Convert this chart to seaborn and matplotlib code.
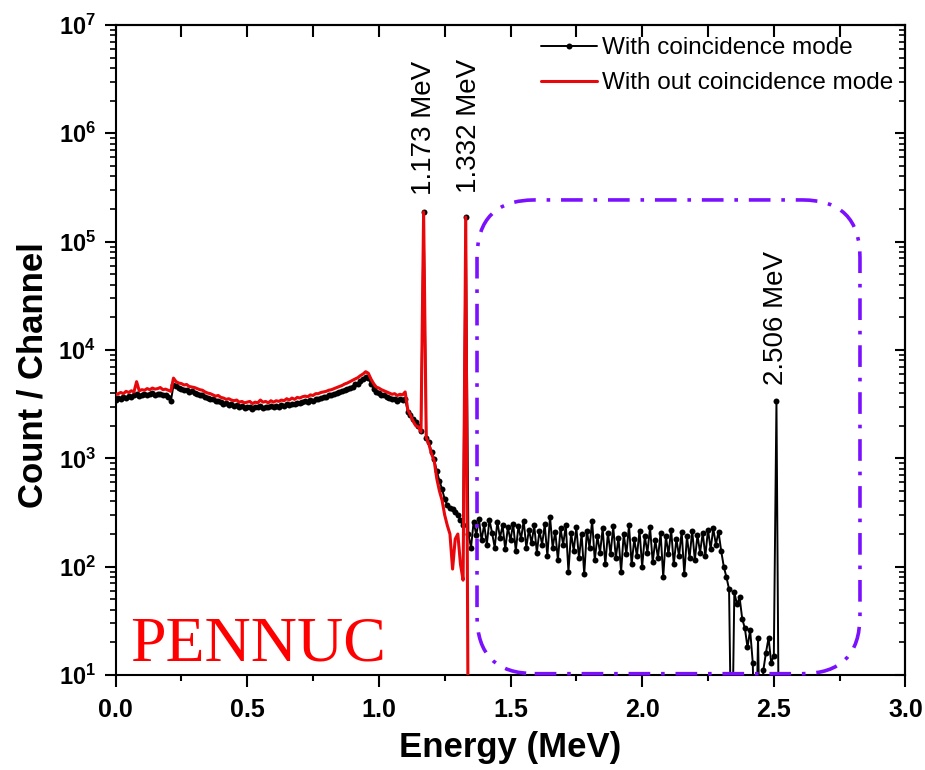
import numpy as np
import matplotlib
matplotlib.use("Agg")
import matplotlib.pyplot as plt
from matplotlib.patches import FancyBboxPatch
from matplotlib.ticker import LogLocator, NullFormatter
import seaborn as sns

# energy calibration of the plotted channels (MeV per channel)
CHANNEL_WIDTH = 0.01

# counts per channel, starting at 0.00 MeV, 10 channels per row
coinc_counts = [
    3450, 3600, 3500, 3700, 3600, 3750, 3650, 3800, 3900, 3750,
    3850, 3950, 3800, 3900, 4000, 3850, 3950, 3900, 3800, 3850,
    3700, 3350, 4700, 4650, 4450, 4400, 4250, 4300, 4100, 4150,
    4000, 3950, 3800, 3850, 3650, 3600, 3500, 3550, 3350, 3400,
    3300, 3200, 3250, 3100, 3150, 3050, 3100, 2950, 3050, 2900,
    3000, 2950, 2850, 3000, 2950, 3050, 2900, 3000, 2950, 3050,
    2950, 3050, 3000, 3100, 3050, 3150, 3100, 3200, 3150, 3250,
    3250, 3300, 3350, 3300, 3450, 3400, 3500, 3550, 3600, 3650,
    3700, 3800, 3850, 3900, 4000, 4100, 4150, 4300, 4400, 4500,
    4600, 4800, 4900, 5200, 5400, 5650, 5500, 4900, 4400, 4100,
    4000, 3850, 3800, 3700, 3600, 3500, 3550, 3400, 3500, 3450,
    3500, 2700, 2500, 2300, 2150, 2000, 1800, 188000, 1550, 1400,
    1150, 980, 760, 620, 520, 420, 370, 350, 340, 320,
    300, 270, 240, 169000, 200, 150, 260, 195, 275, 175,
    245, 160, 270, 205, 150, 260, 185, 240, 145, 230,
    175, 250, 140, 235, 180, 265, 150, 220, 165, 240,
    135, 215, 160, 245, 125, 290, 150, 210, 115, 225,
    160, 240, 90, 205, 140, 230, 120, 200, 85, 215,
    150, 265, 115, 190, 135, 225, 105, 205, 130, 235,
    120, 185, 90, 200, 130, 240, 105, 180, 125, 215,
    100, 190, 135, 230, 110, 175, 120, 205, 80, 190,
    130, 220, 105, 180, 125, 210, 85, 190, 120, 215,
    115, 195, 135, 205, 125, 220, 145, 225, 160, 210,
    140, 100, 80, 62, 1, 58, 45, 52, 33, 27,
    18, 26, 13, 1, 22, 1, 11, 16, 22, 13,
    15, 3400, 1,
]

no_coinc_counts = [
    3850, 3950, 4050, 3950, 4150, 4050, 4200, 4100, 5100, 4200,
    4300, 4250, 4400, 4300, 4450, 4350, 4400, 4500, 4300, 4350,
    4250, 4150, 5500, 5100, 4950, 4900, 4750, 4800, 4600, 4550,
    4500, 4400, 4300, 4250, 4100, 4000, 3950, 3850, 3750, 3800,
    3650, 3600, 3500, 3550, 3450, 3400, 3450, 3300, 3350, 3250,
    3300, 3350, 3200, 3300, 3250, 3450, 3300, 3350, 3250, 3400,
    3300, 3400, 3350, 3450, 3400, 3550, 3450, 3600, 3500, 3650,
    3600, 3700, 3750, 3700, 3850, 3800, 3950, 3950, 4050, 4100,
    4150, 4250, 4300, 4400, 4500, 4600, 4700, 4850, 4950, 5100,
    5250, 5400, 5550, 5800, 6000, 6300, 6100, 5400, 4900, 4550,
    4450, 4300, 4200, 4100, 4000, 3900, 3950, 3800, 3900, 3850,
    4100, 2800, 2500, 2200, 2000, 1950, 1750, 188000, 1550, 1350,
    1100, 950, 650, 500, 410, 300, 240, 200, 95, 180,
    200, 105, 75, 169000, 1,
]

peak_labels = ["1.173 MeV", "1.332 MeV", "2.506 MeV"]
peak_channels = [117, 133, 251]
x_ticks = [0.0, 0.5, 1.0, 1.5, 2.0, 2.5, 3.0]
x_tick_labels = ["0.0", "0.5", "1.0", "1.5", "2.0", "2.5", "3.0"]
y_exponents = [1, 2, 3, 4, 5, 6, 7]

coinc_energy = np.round(np.arange(len(coinc_counts)) * CHANNEL_WIDTH, 2)
no_coinc_energy = np.round(np.arange(len(no_coinc_counts)) * CHANNEL_WIDTH, 2)

sns.set_style("ticks")
plt.rcParams["font.family"] = ["Liberation Sans", "DejaVu Sans"]
plt.rcParams["mathtext.fontset"] = "custom"
plt.rcParams["mathtext.rm"] = "Liberation Sans:bold"
plt.rcParams["mathtext.bf"] = "Liberation Sans:bold"
for key in ["text.color", "axes.labelcolor", "xtick.color", "ytick.color", "axes.edgecolor"]:
    plt.rcParams[key] = "black"

fig = plt.figure(figsize=(9.25, 7.7), dpi=100)
ax = fig.add_axes([0.1249, 0.1234, 0.854, 0.8442])

sns.lineplot(x=coinc_energy, y=coinc_counts, ax=ax, color="black", lw=1.4,
             marker="o", markersize=4.3, markeredgewidth=0, sort=False,
             estimator=None, label="With coincidence mode", zorder=2)
sns.lineplot(x=no_coinc_energy, y=no_coinc_counts, ax=ax, color="#e8080c", lw=2.2,
             sort=False, estimator=None, label="With out coincidence mode", zorder=3)

ax.set_yscale("log")
ax.set_xlim(0, 3.0)
ax.set_ylim(10, 1e7)

# peak annotations
offsets = [(0, 12), (2, 17), (0, 11)]
for lab, ch, off in zip(peak_labels, peak_channels, offsets):
    ax.annotate(lab, xy=(coinc_energy[ch], coinc_counts[ch]), xytext=off,
                textcoords="offset points", rotation=90, ha="center", va="bottom",
                fontsize=20)

# region of interest box
box = FancyBboxPatch((0.4576, 0.002), 0.4848, 0.7288,
                     boxstyle="round,pad=0,rounding_size=0.073",
                     mutation_aspect=790 / 650, transform=ax.transAxes,
                     fill=False, edgecolor="#7b10ff", lw=2.6,
                     linestyle=(0, (6, 3, 1, 3)), clip_on=False, zorder=4)
ax.add_patch(box)

ax.text(0.018, 0.022, "PENNUC", transform=ax.transAxes, fontsize=46,
        color="#ff0000", family="Liberation Serif", va="baseline", zorder=5)

# ticks
ax.set_xticks(x_ticks, x_tick_labels, fontweight="bold")
ax.set_xticks(np.arange(0.25, 3.0, 0.5), minor=True)
ax.set_yticks([10.0 ** k for k in y_exponents],
              [r"$\mathbf{10^{%d}}$" % k for k in y_exponents])
ax.yaxis.set_minor_locator(LogLocator(base=10, subs=np.arange(2, 10)))
ax.yaxis.set_minor_formatter(NullFormatter())
ax.tick_params(axis="x", which="major", direction="out", length=8.5, width=1.5,
               pad=8, labelsize=18)
ax.tick_params(axis="x", which="minor", direction="out", length=4.5, width=1.5)
ax.tick_params(axis="y", which="major", direction="out", length=8, width=1.5,
               pad=6, labelsize=17)
ax.tick_params(axis="y", which="minor", direction="out", length=4.5, width=1.2)

secx = ax.secondary_xaxis("top")
secx.set_xticks(np.arange(0, 3.01, 0.25))
secx.tick_params(direction="in", length=8.5, width=1.5, labeltop=False)
secy = ax.secondary_yaxis("right")
secy.tick_params(which="major", direction="in", length=7, width=1.5, labelright=False)
secy.tick_params(which="minor", direction="in", length=4, width=1.2)

for sp in list(ax.spines.values()) + [secx.spines["top"], secy.spines["right"]]:
    sp.set_linewidth(1.5)

ax.set_xlabel("Energy (MeV)", fontsize=25, fontweight="bold")
ax.set_ylabel("Count / Channel", fontsize=25, fontweight="bold")
ax.xaxis.set_label_coords(0.5, -0.086)
ax.yaxis.set_label_coords(-0.084, 0.4615)

ax.legend(loc="upper right", frameon=False, fontsize=17.5, handlelength=2.3,
          handletextpad=0.2, labelspacing=0.55, borderaxespad=0.1)

plt.savefig("out.png", dpi=100)
plt.close()
